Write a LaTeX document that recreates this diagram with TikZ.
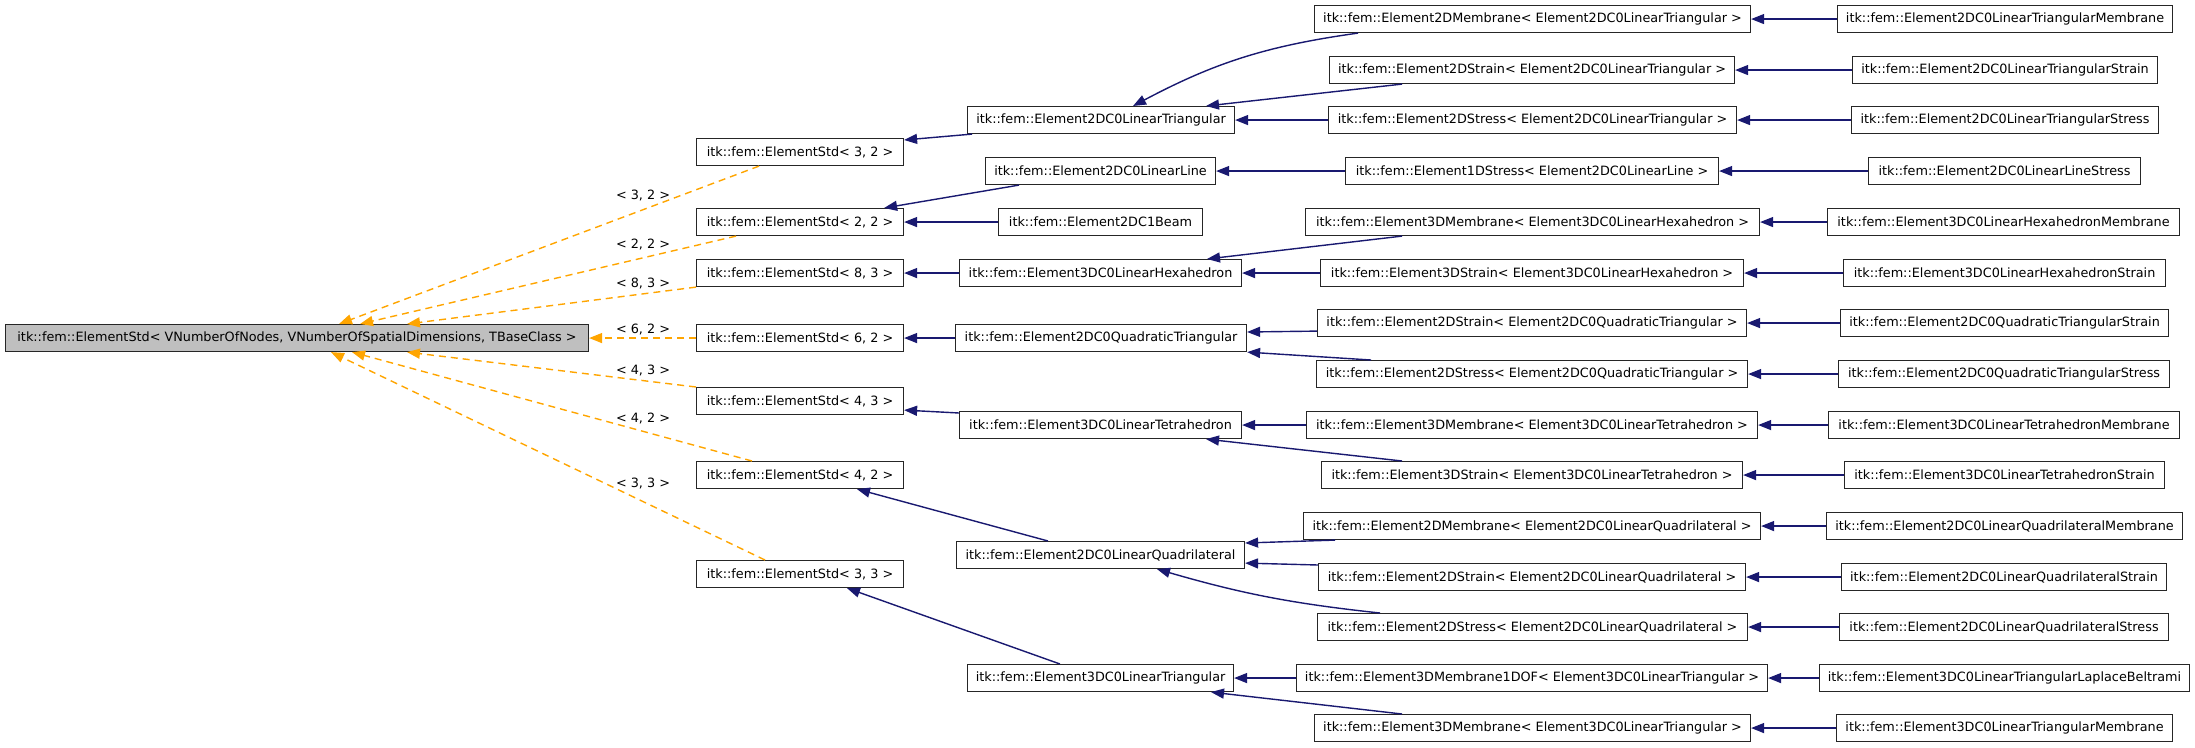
\documentclass[tikz,border=0pt]{standalone}
\usepackage{fontspec}
\setmainfont{DejaVu Sans}
\usetikzlibrary{arrows.meta}
\definecolor{edgeblue}{RGB}{25,25,112}
\definecolor{edgeorange}{RGB}{255,165,0}
\definecolor{rootgray}{RGB}{191,191,191}
\begin{document}
\begin{tikzpicture}[x=1pt,y=-1pt,
  cls/.style={draw=black!85, line width=1.1pt, fill=white, anchor=north west, minimum height=27pt, inner sep=0pt, font=\fontsize{12.8}{14}\selectfont},
  inh/.style={draw=edgeblue, line width=1.4pt, -{Triangle[length=13pt,width=10pt]}},
  tmpl/.style={draw=edgeorange, line width=1.4pt, dash pattern=on 7pt off 5pt, -{Triangle[length=13pt,width=10pt]}},
  lbl/.style={font=\fontsize{12.8}{14}\selectfont, inner sep=0pt}]
\useasboundingbox (0,0) rectangle (2195,747);
% root
\node[cls, fill=rootgray, minimum width=583pt] (root) at (5,324) {itk::fem::ElementStd< VNumberOfNodes, VNumberOfSpatialDimensions, TBaseClass >};
% column 2
\node[cls, minimum width=207pt] (es32) at (696,138) {itk::fem::ElementStd< 3, 2 >};
\node[cls, minimum width=207pt] (es22) at (696,208) {itk::fem::ElementStd< 2, 2 >};
\node[cls, minimum width=207pt] (es83) at (696,259) {itk::fem::ElementStd< 8, 3 >};
\node[cls, minimum width=207pt] (es62) at (696,324) {itk::fem::ElementStd< 6, 2 >};
\node[cls, minimum width=207pt] (es43) at (696,387) {itk::fem::ElementStd< 4, 3 >};
\node[cls, minimum width=207pt] (es42) at (696,461) {itk::fem::ElementStd< 4, 2 >};
\node[cls, minimum width=207pt] (es33) at (696,560) {itk::fem::ElementStd< 3, 3 >};
% column 3
\node[cls, minimum width=267pt] (lt) at (967,106) {itk::fem::Element2DC0LinearTriangular};
\node[cls, minimum width=230pt] (ll) at (985,157) {itk::fem::Element2DC0LinearLine};
\node[cls, minimum width=204pt] (beam) at (998,208) {itk::fem::Element2DC1Beam};
\node[cls, minimum width=282pt] (lh) at (959,259) {itk::fem::Element3DC0LinearHexahedron};
\node[cls, minimum width=291pt] (qt) at (955,324) {itk::fem::Element2DC0QuadraticTriangular};
\node[cls, minimum width=282pt] (tet) at (959,411) {itk::fem::Element3DC0LinearTetrahedron};
\node[cls, minimum width=288pt] (lq) at (956,541) {itk::fem::Element2DC0LinearQuadrilateral};
\node[cls, minimum width=266pt] (ltri) at (967,664) {itk::fem::Element3DC0LinearTriangular};
% column 4
\node[cls, minimum width=436pt] (mlt) at (1314,5) {itk::fem::Element2DMembrane< Element2DC0LinearTriangular >};
\node[cls, minimum width=405pt] (slt) at (1329,56) {itk::fem::Element2DStrain< Element2DC0LinearTriangular >};
\node[cls, minimum width=408pt] (stlt) at (1328,106) {itk::fem::Element2DStress< Element2DC0LinearTriangular >};
\node[cls, minimum width=373pt] (sll) at (1345,157) {itk::fem::Element1DStress< Element2DC0LinearLine >};
\node[cls, minimum width=454pt] (mlh) at (1305,208) {itk::fem::Element3DMembrane< Element3DC0LinearHexahedron >};
\node[cls, minimum width=423pt] (slh) at (1320,259) {itk::fem::Element3DStrain< Element3DC0LinearHexahedron >};
\node[cls, minimum width=429pt] (sqt) at (1317,309) {itk::fem::Element2DStrain< Element2DC0QuadraticTriangular >};
\node[cls, minimum width=431pt] (stqt) at (1316,360) {itk::fem::Element2DStress< Element2DC0QuadraticTriangular >};
\node[cls, minimum width=451pt] (mtet) at (1306,411) {itk::fem::Element3DMembrane< Element3DC0LinearTetrahedron >};
\node[cls, minimum width=421pt] (stet) at (1321,461) {itk::fem::Element3DStrain< Element3DC0LinearTetrahedron >};
\node[cls, minimum width=457pt] (mlq) at (1303,512) {itk::fem::Element2DMembrane< Element2DC0LinearQuadrilateral >};
\node[cls, minimum width=427pt] (slq) at (1318,563) {itk::fem::Element2DStrain< Element2DC0LinearQuadrilateral >};
\node[cls, minimum width=430pt] (stlq) at (1317,613) {itk::fem::Element2DStress< Element2DC0LinearQuadrilateral >};
\node[cls, minimum width=471pt] (mdof) at (1296,664) {itk::fem::Element3DMembrane1DOF< Element3DC0LinearTriangular >};
\node[cls, minimum width=436pt] (mltri) at (1314,714) {itk::fem::Element3DMembrane< Element3DC0LinearTriangular >};
% column 5
\node[cls, minimum width=335pt] (c1) at (1837,5) {itk::fem::Element2DC0LinearTriangularMembrane};
\node[cls, minimum width=305pt] (c2) at (1852,56) {itk::fem::Element2DC0LinearTriangularStrain};
\node[cls, minimum width=307pt] (c3) at (1851,106) {itk::fem::Element2DC0LinearTriangularStress};
\node[cls, minimum width=272pt] (c4) at (1868,157) {itk::fem::Element2DC0LinearLineStress};
\node[cls, minimum width=352pt] (c5) at (1827,208) {itk::fem::Element3DC0LinearHexahedronMembrane};
\node[cls, minimum width=322pt] (c6) at (1843,259) {itk::fem::Element3DC0LinearHexahedronStrain};
\node[cls, minimum width=328pt] (c7) at (1840,309) {itk::fem::Element2DC0QuadraticTriangularStrain};
\node[cls, minimum width=331pt] (c8) at (1838,360) {itk::fem::Element2DC0QuadraticTriangularStress};
\node[cls, minimum width=351pt] (c9) at (1828,411) {itk::fem::Element3DC0LinearTetrahedronMembrane};
\node[cls, minimum width=320pt] (c10) at (1844,461) {itk::fem::Element3DC0LinearTetrahedronStrain};
\node[cls, minimum width=356pt] (c11) at (1826,512) {itk::fem::Element2DC0LinearQuadrilateralMembrane};
\node[cls, minimum width=325pt] (c12) at (1841,563) {itk::fem::Element2DC0LinearQuadrilateralStrain};
\node[cls, minimum width=329pt] (c13) at (1839,613) {itk::fem::Element2DC0LinearQuadrilateralStress};
\node[cls, minimum width=370pt] (c14) at (1819,664) {itk::fem::Element3DC0LinearTriangularLaplaceBeltrami};
\node[cls, minimum width=336pt] (c15) at (1836,714) {itk::fem::Element3DC0LinearTriangularMembrane};
% template edges
\draw[tmpl] ([xshift=63pt]es32.south west) -- ([xshift=334pt]root.north west);
\draw[tmpl] ([xshift=40pt]es22.south west) -- ([xshift=355pt]root.north west);
\draw[tmpl] (es83.south west) -- ([xshift=402pt]root.north west);
\draw[tmpl] (es62.west) -- (root.east);
\draw[tmpl] (es43.north west) -- ([xshift=402pt]root.south west);
\draw[tmpl] ([xshift=56pt]es42.north west) -- ([xshift=347pt]root.south west);
\draw[tmpl] ([xshift=69pt]es33.north west) -- ([xshift=326pt]root.south west);
\node[lbl] (l32) at (643,195) {< 3, 2 >};
\node[lbl] (l22) at (643,244) {< 2, 2 >};
\node[lbl] (l83) at (643,283) {< 8, 3 >};
\node[lbl] (l62) at (643,329) {< 6, 2 >};
\node[lbl] (l43) at (643,370) {< 4, 3 >};
\node[lbl] (l42) at (643,418) {< 4, 2 >};
\node[lbl] (l33) at (643,483) {< 3, 3 >};
% column 3 -> column 2
\draw[inh] ([xshift=5pt]lt.south west) -- ([yshift=-2pt]es32.north east);
\draw[inh] ([xshift=34pt]ll.south west) -- ([xshift=-20pt]es22.north east);
\draw[inh] (beam.west) -- (beam.west -| es22.east);
\draw[inh] (lh.west) -- (lh.west -| es83.east);
\draw[inh] (qt.west) -- (qt.west -| es62.east);
\draw[inh] ([yshift=-2pt]tet.north west) -- ([yshift=5pt]es43.south east);
\draw[inh] ([xshift=92pt]lq.north west) -- ([xshift=161pt]es42.south west);
\draw[inh] ([xshift=93pt]ltri.north west) -- ([xshift=151pt]es33.south west);
% column 4 -> column 3
\draw[inh] ([xshift=44pt]mlt.south west) to[bend right=10] ([xshift=166pt]lt.north west);
\draw[inh] ([xshift=73pt]slt.south west) -- ([xshift=239pt]lt.north west);
\draw[inh] (stlt.west) -- (stlt.west -| lt.east);
\draw[inh] (sll.west) -- (sll.west -| ll.east);
\draw[inh] ([xshift=97pt]mlh.south west) -- ([xshift=248pt]lh.north west);
\draw[inh] (slh.west) -- (slh.west -| lh.east);
\draw[inh] ([yshift=6pt]sqt.south west) -- ([yshift=-8pt]qt.north east);
\draw[inh] ([xshift=55pt]stqt.north west) -- (qt.south east);
\draw[inh] (mtet.west) -- (mtet.west -| tet.east);
\draw[inh] ([xshift=81pt]stet.north west) -- ([xshift=247pt]tet.south west);
\draw[inh] ([xshift=32pt]mlq.south west) -- ([yshift=-2pt]lq.north east);
\draw[inh] ([yshift=-2pt]slq.north west) -- ([yshift=6pt]lq.south east);
\draw[inh] ([xshift=63pt]stlq.north west) to[bend left=5] ([xshift=201pt]lq.south west);
\draw[inh] (mdof.west) -- (mdof.west -| ltri.east);
\draw[inh] ([xshift=88pt]mltri.north west) -- ([xshift=244pt]ltri.south west);
% column 5 -> column 4
\draw[inh] (c1.west) -- (c1.west -| mlt.east);
\draw[inh] (c2.west) -- (c2.west -| slt.east);
\draw[inh] (c3.west) -- (c3.west -| stlt.east);
\draw[inh] (c4.west) -- (c4.west -| sll.east);
\draw[inh] (c5.west) -- (c5.west -| mlh.east);
\draw[inh] (c6.west) -- (c6.west -| slh.east);
\draw[inh] (c7.west) -- (c7.west -| sqt.east);
\draw[inh] (c8.west) -- (c8.west -| stqt.east);
\draw[inh] (c9.west) -- (c9.west -| mtet.east);
\draw[inh] (c10.west) -- (c10.west -| stet.east);
\draw[inh] (c11.west) -- (c11.west -| mlq.east);
\draw[inh] (c12.west) -- (c12.west -| slq.east);
\draw[inh] (c13.west) -- (c13.west -| stlq.east);
\draw[inh] (c14.west) -- (c14.west -| mdof.east);
\draw[inh] (c15.west) -- (c15.west -| mltri.east);
\end{tikzpicture}
\end{document}
